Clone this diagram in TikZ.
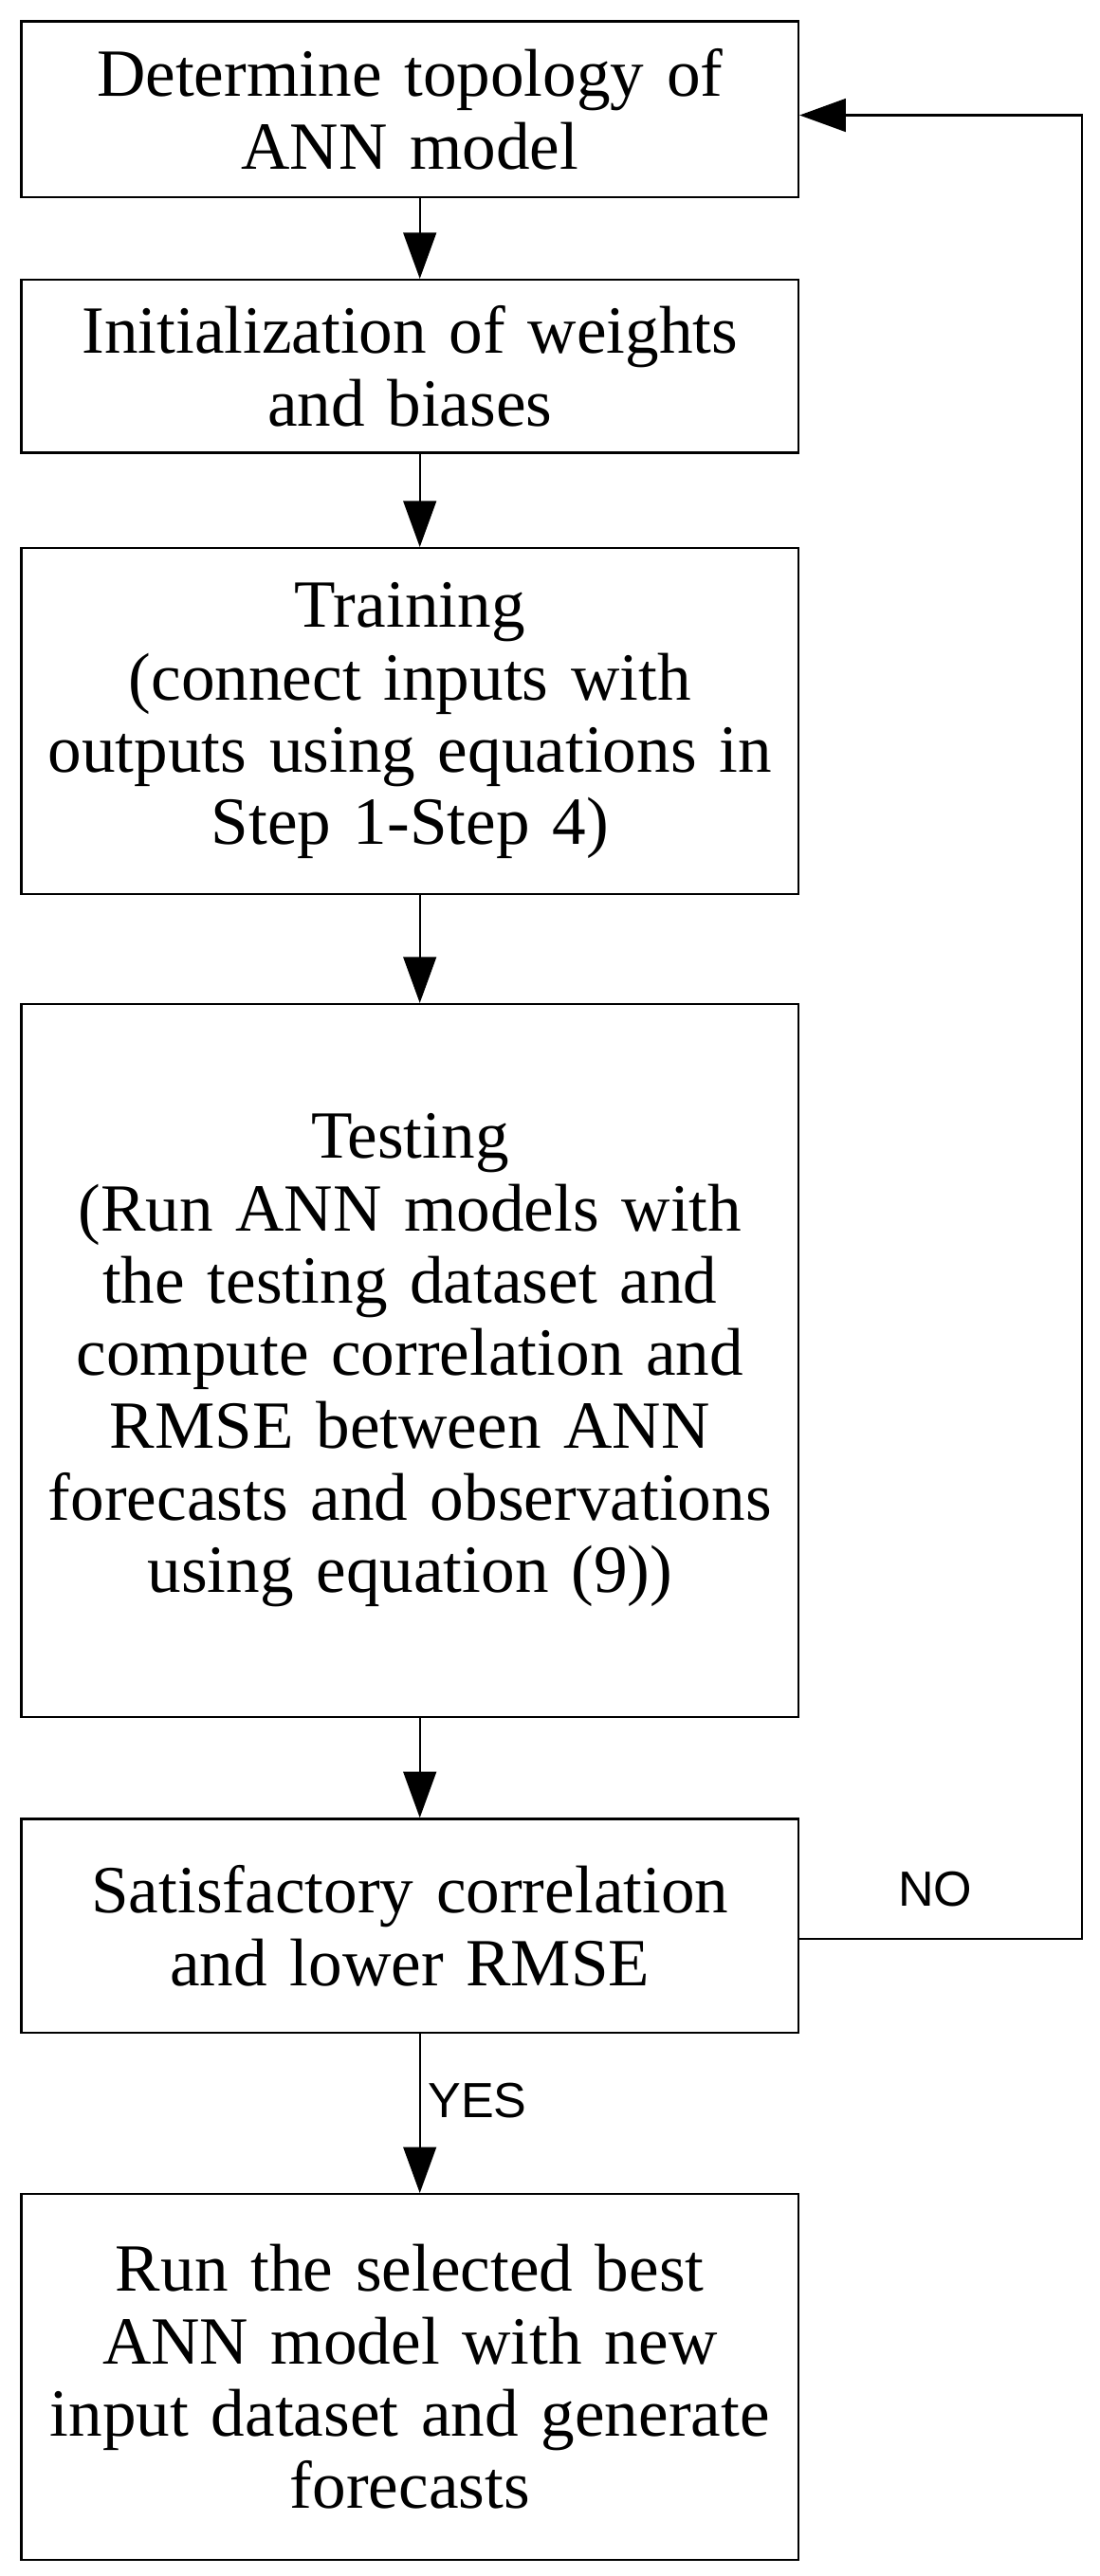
\documentclass[tikz,border=0pt]{standalone}
\usepackage{fontspec}
\setmainfont{Liberation Serif}
\newfontfamily\lblfont{Liberation Sans}
\usetikzlibrary{arrows.meta}
\begin{document}
\begin{tikzpicture}[x=1pt,y=-1pt,
  box/.style={draw,line width=1.3pt,minimum width=472pt,align=center,inner sep=0pt,
    font=\fontsize{41}{44}\selectfont,text width=468pt},
  arr/.style={line width=1.3pt,-{Triangle[length=28pt,width=20pt]}},
  lbl/.style={font=\lblfont\fontsize{30}{34}\selectfont}]
\useasboundingbox (0,0) rectangle (668,1565);
\node[box,minimum height=107pt] (b1) at (249,66.5) {Determine topology of\\ANN model};
\node[box,minimum height=105pt] (b2) at (249,222.5) {Initialization of weights\\and biases};
\node[box,minimum height=210pt] (b3) at (249,438) {Training\\(connect inputs with\\outputs using equations in\\Step 1-Step 4)};
\node[box,minimum height=433pt] (b4) at (249,826.5) {Testing\\(Run ANN models with\\the testing dataset and\\compute correlation and\\RMSE between ANN\\forecasts and observations\\using equation (9))};
\node[box,minimum height=130pt] (b5) at (249,1170) {Satisfactory correlation\\and lower RMSE};
\node[box,minimum height=222pt] (b6) at (249,1444) {Run the selected best\\ANN model with new\\input dataset and generate\\forecasts};
\draw[arr] (b1.south -| 255,0) -- (b2.north -| 255,0);
\draw[arr] (b2.south -| 255,0) -- (b3.north -| 255,0);
\draw[arr] (b3.south -| 255,0) -- (b4.north -| 255,0);
\draw[arr] (b4.south -| 255,0) -- (b5.north -| 255,0);
\draw[arr] (b5.south -| 255,0) -- (b6.north -| 255,0);
\coordinate (c1) at (657,1178);
\coordinate (c2) at (657,70);
\draw[arr] (b5.east |- c1) -- (c1) -- (c2) -- (b1.east |- c2);
\node[lbl] (no) at (568,1148) {NO};
\node[lbl] (yes) at (290,1276) {YES};
\end{tikzpicture}
\end{document}
